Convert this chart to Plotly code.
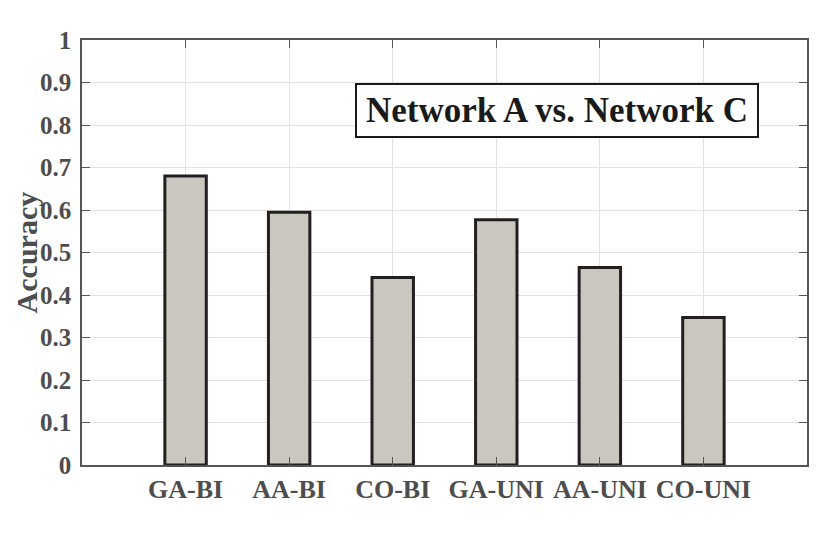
from plotly import graph_objects as go

# values
categories = ["GA-BI", "AA-BI", "CO-BI", "GA-UNI", "AA-UNI", "CO-UNI"]
accuracy = [0.68, 0.595, 0.441, 0.577, 0.465, 0.347]
y_ticks = [0, 0.1, 0.2, 0.3, 0.4, 0.5, 0.6, 0.7, 0.8, 0.9, 1]
y_tick_labels = ["0", "0.1", "0.2", "0.3", "0.4", "0.5", "0.6", "0.7", "0.8", "0.9", "1"]
title_text = "Network A vs. Network C"
y_title = "Accuracy"

SERIF = "Liberation Serif, Times New Roman, serif"
TICK_GREY = "#4d4d4d"

fig = go.Figure()
fig.add_trace(
    go.Bar(
        x=categories,
        y=accuracy,
        width=0.4,
        marker=dict(color="#cac7c0", line=dict(color="#231f20", width=3)),
    )
)

# the page body adds an 8px offset, so margins are shifted by that
fig.update_layout(
    width=830,
    height=535,
    margin=dict(l=74, r=31, t=32, b=78),
    plot_bgcolor="white",
    paper_bgcolor="white",
    showlegend=False,
    font=dict(family=SERIF, color=TICK_GREY),
)

fig.update_xaxes(
    type="category",
    range=[-1, 6],
    automargin=False,
    showgrid=True,
    gridcolor="#e2e2e2",
    gridwidth=1,
    showline=True,
    linecolor="#555555",
    linewidth=1.5,
    mirror="ticks",
    ticks="inside",
    ticklen=8,
    tickcolor="#555555",
    tickfont=dict(family=SERIF, size=26, color=TICK_GREY, weight="bold"),
)
fig.update_yaxes(
    range=[0, 1],
    automargin=False,
    tickvals=y_ticks,
    ticktext=y_tick_labels,
    showgrid=True,
    gridcolor="#e2e2e2",
    gridwidth=1,
    zeroline=False,
    showline=True,
    linecolor="#555555",
    linewidth=1.5,
    mirror="ticks",
    ticks="inside",
    ticklen=8,
    tickcolor="#555555",
    ticklabelstandoff=4,
    tickfont=dict(family=SERIF, size=25, color=TICK_GREY, weight="bold"),
)

# y title as an annotation so it can sit closer to the page edge
fig.add_annotation(
    text=y_title,
    xref="paper",
    yref="paper",
    x=-0.076,
    y=0.5,
    xanchor="center",
    yanchor="middle",
    textangle=-90,
    borderpad=0,
    showarrow=False,
    font=dict(family=SERIF, size=30, color=TICK_GREY, weight="bold"),
)

fig.add_annotation(
    text=title_text,
    xref="paper",
    yref="paper",
    x=0.655,
    y=0.833,
    xanchor="center",
    yanchor="middle",
    showarrow=False,
    width=400,
    height=51,
    borderpad=0,
    bordercolor="#1a1a1a",
    borderwidth=2,
    bgcolor="white",
    font=dict(family=SERIF, size=35, color="#1a1a1a", weight="bold"),
)

fig.write_html("out.html")
